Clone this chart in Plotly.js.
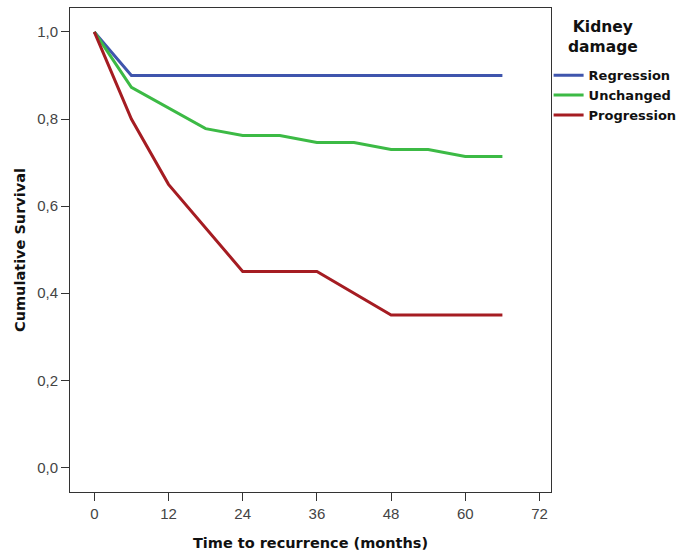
<!DOCTYPE html>
<html><head><meta charset="utf-8">
<script src="https://cdn.plot.ly/plotly-3.0.1.min.js"></script>
<style>html,body{margin:0;padding:0;background:#fff}#c{width:680px;height:554px}</style>
</head><body><div id="c"></div>
<script>
const seriesNames = ["Regression", "Unchanged", "Progression"];
const legendTitle = "Kidney<br>damage";
const regressionMonths = [0, 6, 66];
const regressionSurv = [1.0, 0.9, 0.9];
const unchangedMonths = [0, 6, 18, 24, 30, 36, 42, 48, 54, 60, 66];
const unchangedSurv = [1.0, 0.873, 0.778, 0.762, 0.762, 0.746, 0.746, 0.730, 0.730, 0.714, 0.714];
const progressionMonths = [0, 6, 12, 24, 36, 48, 66];
const progressionSurv = [1.0, 0.80, 0.65, 0.45, 0.45, 0.35, 0.35];
const xTicks = [0, 12, 24, 36, 48, 60, 72];
const yTicks = [0, 0.2, 0.4, 0.6, 0.8, 1.0];
const colors = ["#3f55ad", "#3cba45", "#a51c22"];

const traces = [
  {x: regressionMonths, y: regressionSurv, name: seriesNames[0]},
  {x: unchangedMonths, y: unchangedSurv, name: seriesNames[1]},
  {x: progressionMonths, y: progressionSurv, name: seriesNames[2]}
].map((t, i) => Object.assign(t, {type: "scatter", mode: "lines", line: {color: colors[i], width: 3}}));

const bold = "DejaVu Sans, sans-serif";
const layout = {
  width: 680, height: 554,
  margin: {l: 70, r: 128.5, t: 8, b: 61.7, autoexpand: false},
  separators: ",.",
  paper_bgcolor: "#fff", plot_bgcolor: "#fff",
  font: {family: "Liberation Sans, Arial, sans-serif", color: "#333"},
  xaxis: {
    range: [-3.93, 73.86], tickvals: xTicks, ticks: "outside", ticklen: 8, tickcolor: "#333",
    showgrid: false, zeroline: false, showline: true, linecolor: "#333", linewidth: 1, mirror: true,
    tickfont: {size: 15, color: "#444"},
    title: {text: "<b>Time to recurrence (months)</b>", font: {family: bold, size: 14.5, color: "#111"}, standoff: 16}
  },
  yaxis: {
    range: [-0.0565, 1.055], tickvals: yTicks, tickformat: ".1f", ticks: "outside", ticklen: 8, tickcolor: "#333",
    showgrid: false, zeroline: false, showline: true, linecolor: "#333", linewidth: 1, mirror: true,
    tickfont: {size: 15, color: "#444"},
    title: {text: "<b>Cumulative Survival</b>", font: {family: bold, size: 14.5, color: "#111"}, standoff: 8}
  },
  legend: {
    x: 0.995, xanchor: "left", y: 0.892, yanchor: "top",
    font: {family: bold, size: 13, color: "#111", weight: "bold"},
    bgcolor: "rgba(0,0,0,0)", tracegroupgap: 0
  },
  annotations: [{
    text: "<b>" + legendTitle + "</b>", xref: "paper", yref: "paper", x: 1.109, y: 0.940,
    xanchor: "center", yanchor: "middle", align: "center", showarrow: false,
    font: {family: bold, size: 15.5, color: "#111"}
  }],
  showlegend: true
};
Plotly.newPlot("c", traces, layout, {displayModeBar: false, staticPlot: true});
</script></body></html>
